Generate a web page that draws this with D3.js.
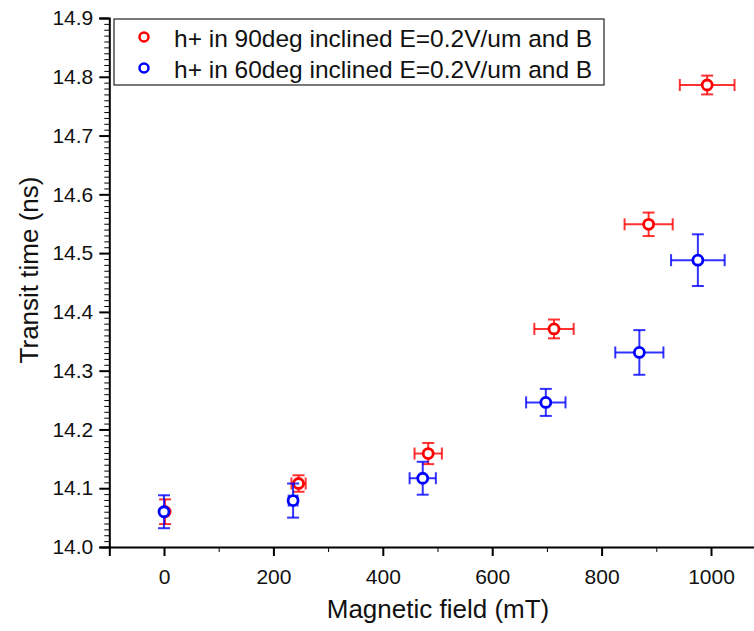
<!DOCTYPE html>
<html>
<head>
<meta charset="utf-8">
<script src="https://cdn.jsdelivr.net/npm/d3@7"></script>
<style>
  body { margin: 0; background: #fff; }
  svg { display: block; font-family: "Liberation Sans", Arial, sans-serif; }
</style>
</head>
<body>
<div id="viz"></div>
<script>
var svg_width = 754;
var svg_height = 631;

// series: h+ in 90deg inclined field
var red_field = [2, 246, 483, 713, 886, 993];
var red_xerr = [2, 13, 25, 36, 44, 50];
var red_time = [14.060, 14.108, 14.159, 14.371, 14.549, 14.786];
var red_yerr = [0.021, 0.014, 0.018, 0.016, 0.020, 0.016];

// series: h+ in 60deg inclined field
var blue_field = [0, 236, 473, 698, 869, 976];
var blue_xerr = [1, 8, 24, 36, 44, 49];
var blue_time = [14.060, 14.079, 14.117, 14.246, 14.331, 14.488];
var blue_yerr = [0.028, 0.029, 0.028, 0.023, 0.038, 0.044];

var x_ticks = [0, 200, 400, 600, 800, 1000];
var y_ticks = [14.0, 14.1, 14.2, 14.3, 14.4, 14.5, 14.6, 14.7, 14.8, 14.9];
var legend_labels = ["h+ in 90deg inclined E=0.2V/um and B", "h+ in 60deg inclined E=0.2V/um and B"];

var x = d3.scaleLinear().domain([-100, 1100]).range([109.3, 765.7]);
var y = d3.scaleLinear().domain([14.0, 14.9]).range([547, 18]);

var svg = d3.select('#viz')
.append('svg')
.attr('width', svg_width)
.attr('height', svg_height);

// x axis: major + minor ticks
var xMinor = d3.range(-100, 1101, 100).filter(d => x_ticks.indexOf(d) < 0);
svg.append('g')
.attr('transform', 'translate(0,' + y(14.0) + ')')
.call(d3.axisBottom(x).tickValues(xMinor).tickSize(5).tickFormat(''))
.call(g => g.select('.domain').remove());

var gx = svg.append('g')
.attr('transform', 'translate(0,' + y(14.0) + ')')
.call(d3.axisBottom(x).tickValues(x_ticks).tickSize(9).tickPadding(13).tickFormat(d3.format('d')));
gx.select('.domain').attr('stroke-width', 2);
gx.selectAll('.tick line').attr('stroke-width', 2);
gx.selectAll('text').attr('font-size', 21).attr('fill', '#111');

// y axis
var yMinor = d3.range(0, 91).map(i => 14.0 + i * 0.01).filter(d => Math.abs(Math.round(d * 10) - d * 10) > 1e-6);
svg.append('g')
.attr('transform', 'translate(' + x(-100) + ',0)')
.call(d3.axisLeft(y).tickValues(yMinor).tickSize(5).tickFormat(''))
.call(g => g.select('.domain').remove());

var gy = svg.append('g')
.attr('transform', 'translate(' + x(-100) + ',0)')
.call(d3.axisLeft(y).tickValues(y_ticks).tickSize(10).tickPadding(6).tickFormat(d3.format('.1f')));
gy.select('.domain').attr('stroke-width', 2);
gy.selectAll('.tick line').attr('stroke-width', 2);
gy.selectAll('text').attr('font-size', 21).attr('fill', '#111');

// axis titles
svg.append('text')
.text('Magnetic field (mT)')
.attr('x', 438)
.attr('y', 618)
.attr('text-anchor', 'middle')
.attr('font-size', 26)
.attr('fill', '#111');

svg.append('text')
.text('Transit time (ns)')
.attr('transform', 'translate(38,270) rotate(-90)')
.attr('text-anchor', 'middle')
.attr('font-size', 26)
.attr('fill', '#111');

// legend
svg.append('rect')
.attr('x', 114).attr('y', 19)
.attr('width', 490).attr('height', 66)
.attr('fill', 'white').attr('stroke', '#222').attr('stroke-width', 1.2);

var colors = ['#ff0000', '#0000ff'];
legend_labels.forEach(function(lbl, i){
  svg.append('circle')
  .attr('cx', 144).attr('cy', 37 + i * 31).attr('r', 4.5)
  .attr('fill', 'none').attr('stroke', colors[i]).attr('stroke-width', 2.5);
  svg.append('text')
  .text(lbl)
  .attr('x', 174).attr('y', 38 + i * 31)
  .attr('dy', '0.35em')
  .attr('font-size', 24.5)
  .attr('fill', '#111');
});

// error bars and markers
function drawSeries(xs, xe, ys, ye, color){
  var data = xs.map((d, i) => ({x: d, xe: xe[i], y: ys[i], ye: ye[i]}));
  var g = svg.append('g').attr('stroke', color).attr('stroke-width', 2).attr('stroke-opacity', 0.8);
  var cap = 6;
  data.forEach(function(d){
    var cx = x(d.x), cy = y(d.y);
    var x0 = x(d.x - d.xe), x1 = x(d.x + d.xe);
    var y0 = y(d.y + d.ye), y1 = y(d.y - d.ye);
    g.append('line').attr('x1', x0).attr('x2', x1).attr('y1', cy).attr('y2', cy);
    g.append('line').attr('x1', cx).attr('x2', cx).attr('y1', y0).attr('y2', y1);
    g.append('line').attr('x1', cx - cap).attr('x2', cx + cap).attr('y1', y0).attr('y2', y0);
    g.append('line').attr('x1', cx - cap).attr('x2', cx + cap).attr('y1', y1).attr('y2', y1);
    if (x1 - x0 > 6) {
      g.append('line').attr('x1', x0).attr('x2', x0).attr('y1', cy - cap).attr('y2', cy + cap);
      g.append('line').attr('x1', x1).attr('x2', x1).attr('y1', cy - cap).attr('y2', cy + cap);
    }
  });
  svg.append('g').selectAll('circle')
  .data(data)
  .enter()
  .append('circle')
  .attr('cx', d => x(d.x))
  .attr('cy', d => y(d.y))
  .attr('r', 5)
  .attr('fill', 'white')
  .attr('stroke', color)
  .attr('stroke-width', 2.8);
}

drawSeries(red_field, red_xerr, red_time, red_yerr, '#ff0000');
drawSeries(blue_field, blue_xerr, blue_time, blue_yerr, '#0000ff');
</script>
</body>
</html>
